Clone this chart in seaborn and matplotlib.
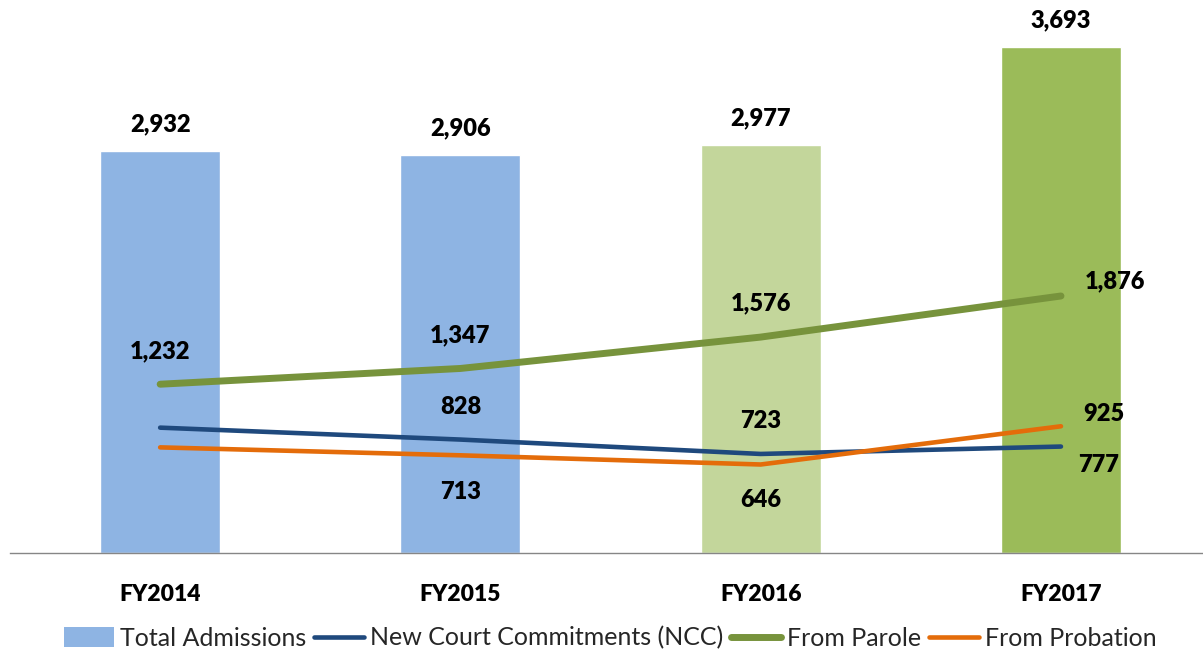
import matplotlib
matplotlib.use("Agg")
import matplotlib.pyplot as plt
import seaborn as sns
import numpy as np
import pandas as pd
from matplotlib.patches import Patch
from matplotlib.lines import Line2D

# ---- data ----
categories = ["FY2014", "FY2015", "FY2016", "FY2017"]
total_admissions = [2932, 2906, 2977, 3693]
ncc = [915, 828, 723, 777]
parole = [1232, 1347, 1576, 1876]
probation = [771, 713, 646, 925]
series_names = ["Total Admissions", "New Court Commitments (NCC)", "From Parole", "From Probation"]

# which line points carry a value label
ncc_labeled = [False, True, True, True]
parole_labeled = [True, True, True, True]
probation_labeled = [False, True, True, True]

# ---- style ----
bar_colors = ["#8EB4E3", "#8EB4E3", "#C3D69B", "#9BBB59"]
ncc_color = "#1F497D"
parole_color = "#77933C"
prob_color = "#E46C0A"
FONT = "Lato"

sns.set_theme(style="white")
plt.rcParams["font.family"] = [FONT, "DejaVu Sans"]

W, H = 1203, 653
fig = plt.figure(figsize=(W / 100, H / 100), dpi=100)
ax = fig.add_axes([10 / W, 100 / H, 1193 / W, 553 / H])

df = pd.DataFrame({"cat": categories, "total": total_admissions})
sns.barplot(data=df, x="cat", y="total", hue="cat", palette=bar_colors,
            width=0.4, dodge=False, saturation=1, legend=False, ax=ax, zorder=1)

xi = np.arange(len(categories))
ldf = pd.DataFrame({"x": xi, "ncc": ncc, "parole": parole, "prob": probation})
sns.lineplot(data=ldf, x="x", y="ncc", color=ncc_color, lw=3.3, ax=ax,
             solid_capstyle="round", zorder=3)
sns.lineplot(data=ldf, x="x", y="parole", color=parole_color, lw=5.0, ax=ax,
             solid_capstyle="round", zorder=3)
sns.lineplot(data=ldf, x="x", y="prob", color=prob_color, lw=3.3, ax=ax,
             solid_capstyle="round", zorder=3)

ax.set_xlim(-0.5, 3.473)
ax.set_ylim(0, 553 / 0.137)

px = 1 / 1.389  # pixels -> points at 100 dpi
WEIGHT = 800
lab_kw = dict(fontsize=17, fontweight=WEIGHT, color="black", textcoords="offset points")

for i, v in enumerate(total_admissions):
    ax.annotate(f"{v:,}", (i, v), xytext=(0, 27 * px), ha="center", va="center", **lab_kw)

# offsets in pixels for line labels
parole_off = [(0, 33, "center"), (0, 33, "center"), (0, 34, "center"), (24, 15, "left")]
ncc_off = [(0, 33, "center"), (0, 33, "center"), (0, 33, "center"), (17, -18, "left")]
prob_off = [(0, -37, "center"), (0, -37, "center"), (0, -36, "center"), (22, 12, "left")]

for vals, mask, offs in [(parole, parole_labeled, parole_off),
                         (ncc, ncc_labeled, ncc_off),
                         (probation, probation_labeled, prob_off)]:
    for i, v in enumerate(vals):
        if not mask[i]:
            continue
        dx, dy, ha = offs[i]
        ax.annotate(f"{v:,}", (i, v), xytext=(dx * px, dy * px), ha=ha, va="center", **lab_kw)

ax.set_xlabel("")
ax.set_ylabel("")
ax.set_yticks([])
ax.tick_params(axis="x", length=0, pad=22)
for lbl in ax.get_xticklabels():
    lbl.set_fontsize(16.5)
    lbl.set_fontweight(WEIGHT)
    lbl.set_color("black")
for s in ["top", "right", "left"]:
    ax.spines[s].set_visible(False)
ax.spines["bottom"].set_color("#868686")
ax.spines["bottom"].set_linewidth(1.0)

handles = [
    Patch(facecolor=bar_colors[0], edgecolor="none"),
    Line2D([], [], color=ncc_color, lw=3.3, solid_capstyle="round"),
    Line2D([], [], color=parole_color, lw=5.0, solid_capstyle="round"),
    Line2D([], [], color=prob_color, lw=3.3, solid_capstyle="round"),
]
fig.legend(handles, series_names, loc="center", bbox_to_anchor=(610 / W, 1 - 638 / H),
           ncol=4, frameon=False, fontsize=18, handlelength=2.0, handleheight=0.8,
           handletextpad=0.25, columnspacing=0.3)

fig.savefig("out.png", dpi=100)
